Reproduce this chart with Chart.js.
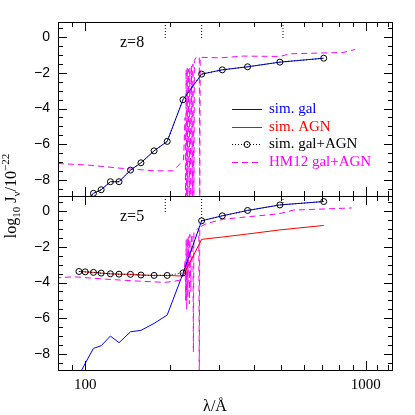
<!DOCTYPE html>
<html>
<head>
<meta charset="utf-8">
<script src="https://cdn.jsdelivr.net/npm/chart.js@4.4.0/dist/chart.umd.min.js"></script>
<style>
  body { margin: 0; background: #fff; }
  #wrap { position: relative; width: 415px; height: 415px; }
  canvas { position: absolute; left: 0; top: 0; }
</style>
</head>
<body>
<div id="wrap">
  <canvas id="z8" width="415" height="415"></canvas>
  <canvas id="z5" width="415" height="415"></canvas>
</div>
<script>
// wavelength bins of the simulated spectra (Angstrom)
const simLambda = [95, 100, 107, 114, 123, 132, 145, 158, 176, 196, 223, 260, 308, 379, 494, 708];

// z = 8 panel
const galZ8 = [-9.5, -9.2, -8.75, -8.55, -8.10, -8.10, -7.45, -7.04, -6.37, -5.84, -3.51, -2.07, -1.83, -1.66, -1.40, -1.18];
const totZ8 = [-9.5, -9.2, -8.75, -8.55, -8.10, -8.10, -7.45, -7.04, -6.37, -5.84, -3.51, -2.07, -1.83, -1.66, -1.40, -1.18];
const hmLambdaZ8 = [80, 103, 135, 178, 206, 224, 227, 228, 229, 230, 231, 232, 233, 235, 236, 238, 239, 241, 242, 244, 245, 248, 252, 255, 256, 257, 303, 366, 495, 537, 830, 916];
const hmZ8 = [-7.08, -7.17, -7.35, -7.49, -7.49, -6.89, -4.5, -9.5, -1.8, -9.5, -1.7, -9.5, -1.8, -9.5, -1.7, -9.5, -1.6, -9.5, -1.5, -9.5, -1.3, -1.15, -1.1, -1.1, -9.5, -1.13, -1.16, -1.06, -1.08, -0.93, -0.86, -0.69];

// z = 5 panel
const galZ5 = [-9.2, -8.53, -7.69, -7.54, -7.00, -7.37, -6.76, -6.68, -6.29, -5.82, -3.50, -0.54, -0.26, 0.04, 0.35, 0.54];
const agnZ5 = [-3.38, -3.40, -3.43, -3.47, -3.51, -3.53, -3.54, -3.58, -3.60, -3.60, -3.64, -1.58, -1.45, -1.28, -1.05, -0.80];
const totZ5 = [-3.38, -3.40, -3.43, -3.47, -3.51, -3.53, -3.54, -3.58, -3.60, -3.60, -3.46, -0.54, -0.26, 0.04, 0.35, 0.54];
const hmLambdaZ5 = [78, 92, 118, 155, 193, 209, 218, 224, 227, 228, 229, 230, 231, 232, 233, 235, 236, 238, 239, 242, 243, 244, 248, 254, 255, 256, 257, 271, 311, 377, 469, 495, 552, 891];
const hmZ5 = [-3.73, -3.68, -3.81, -3.92, -3.99, -3.92, -3.86, -3.6, -2.8, -5.0, -1.6, -5.5, -1.5, -4.8, -1.4, -5.2, -1.3, -4.5, -1.4, -1.3, -7.9, -1.2, -1.05, -0.95, -9.5, -0.9, -0.88, -0.69, -0.45, -0.32, -0.18, -0.13, 0.06, 0.18];

// short dotted markers hanging from the top of each panel
const markerLambda = [193, 260, 507];
const markerTop = 0.85;
const markerEndZ8 = [-0.15, -0.15, -0.15];
const markerEndZ5 = [-0.1, -0.55, 0.34];

// axes
const xMin = 80, xMax = 1250;
const yMin = -8.9, yMax = 0.85;
const yTicks = [0, -2, -4, -6, -8];
const xLabelTicks = [100, 1000];
const xMinorTicks = [80, 90, 200, 300, 400, 500, 600, 700, 800, 900, 1100, 1200];
const seriesNames = ['sim. gal', 'sim. AGN', 'sim. gal+AGN', 'HM12 gal+AGN'];

const BLUE = '#0000ff', RED = '#ff0000', MAGENTA = '#ff00ff', BLACK = '#000000';
const SERIF = '"Liberation Serif", "DejaVu Serif", serif';
const SANS = '"Liberation Sans", Arial, sans-serif';

const pts = (xs, ys) => xs.map((x, i) => ({ x, y: ys[i] }));

function lineSet(data, color, extra) {
  return Object.assign({
    data, borderColor: color, backgroundColor: color, borderWidth: 1,
    pointRadius: 0, showLine: true, fill: false, clip: 0, tension: 0
  }, extra);
}

function markerSets(ends) {
  return markerLambda.map((l, i) => lineSet(
    [{ x: l, y: markerTop }, { x: l, y: ends[i] }], BLACK,
    { borderDash: [1, 2], order: 0 }));
}

// inward ticks and frame, through the chart's own scales
const frameTicks = {
  id: 'frameTicks',
  afterDraw(chart) {
    const { ctx, chartArea: a, scales: { x, y } } = chart;
    ctx.save();
    ctx.strokeStyle = BLACK;
    ctx.lineWidth = 1;
    ctx.beginPath();
    for (let v = -9; v <= 1; v += 0.5) {
      if (v < yMin || v > yMax) continue;
      const py = Math.round(y.getPixelForValue(v)) + 0.5;
      const len = v % 2 === 0 ? 9 : 5;
      ctx.moveTo(a.left, py); ctx.lineTo(a.left + len, py);
      ctx.moveTo(a.right, py); ctx.lineTo(a.right - len, py);
    }
    const xs = xLabelTicks.map(v => [v, 9]).concat(xMinorTicks.map(v => [v, 5]));
    xs.forEach(([v, len]) => {
      const px = Math.round(x.getPixelForValue(v)) + 0.5;
      ctx.moveTo(px, a.top); ctx.lineTo(px, a.top + len);
      ctx.moveTo(px, a.bottom); ctx.lineTo(px, a.bottom - len);
    });
    ctx.stroke();
    ctx.strokeRect(Math.round(a.left) + 0.5, Math.round(a.top) + 0.5,
      Math.round(a.width) - 1, Math.round(a.height));
    ctx.restore();
  }
};

// panel label, legend and axis titles
const annotations = {
  id: 'annotations',
  afterDraw(chart, args, opts) {
    const ctx = chart.ctx;
    ctx.save();
    ctx.fillStyle = BLACK;
    ctx.font = '16px ' + SERIF;
    ctx.textBaseline = 'middle';
    ctx.fillText(opts.label, 120, chart.chartArea.top + 21);

    if (opts.legend) {
      const styles = [
        { c: BLUE, dash: [], dot: false },
        { c: RED, dash: [], dot: false },
        { c: BLACK, dash: [1, 2], dot: true },
        { c: MAGENTA, dash: [6, 4], dot: false }
      ];
      const rows = [109, 127, 144, 162];
      seriesNames.forEach((name, i) => {
        const s = styles[i], ry = rows[i] + 0.5;
        ctx.strokeStyle = s.c;
        ctx.lineWidth = 1;
        ctx.setLineDash(s.dash);
        ctx.beginPath(); ctx.moveTo(232, ry); ctx.lineTo(262, ry); ctx.stroke();
        ctx.setLineDash([]);
        if (s.dot) {
          ctx.beginPath(); ctx.arc(247, ry, 3, 0, Math.PI * 2); ctx.stroke();
        }
        ctx.fillStyle = s.c;
        ctx.font = '15px ' + SERIF;
        ctx.fillText(name, 269, ry);
      });
    }

    if (opts.axisTitles) {
      ctx.fillStyle = BLACK;
      ctx.textBaseline = 'alphabetic';
      ctx.font = '16px ' + SERIF;
      ctx.textAlign = 'center';
      ctx.fillText('\u03bb/\u00c5', 215, 411);
      ctx.textAlign = 'left';
      // rotated y title with sub/superscripts
      const parts = [
        ['log', 16, 0], ['10', 11, 4], [' J', 16, 0], ['\u03bd', 11, 4],
        ['/10', 16, 0], ['\u221222', 11, -7]
      ];
      let total = 0;
      parts.forEach(p => { ctx.font = p[1] + 'px ' + SERIF; total += ctx.measureText(p[0]).width; });
      ctx.translate(16, 196);
      ctx.rotate(-Math.PI / 2);
      let cx = -total / 2;
      parts.forEach(p => {
        ctx.font = p[1] + 'px ' + SERIF;
        ctx.fillText(p[0], cx, p[2]);
        cx += ctx.measureText(p[0]).width;
      });
    }
    ctx.restore();
  }
};

function makePanel(id, padTop, padBottom, datasets, showX, opts) {
  return new Chart(document.getElementById(id), {
    type: 'scatter',
    data: { datasets },
    options: {
      responsive: false,
      animation: false,
      devicePixelRatio: 1,
      layout: { padding: { top: padTop, right: 22, bottom: padBottom, left: 0 } },
      plugins: { legend: { display: false }, tooltip: { enabled: false }, annotations: opts },
      scales: {
        x: {
          type: 'logarithmic', min: xMin, max: xMax, display: showX,
          grid: { display: false, drawTicks: false }, border: { display: false },
          afterBuildTicks: s => { s.ticks = xLabelTicks.map(v => ({ value: v })); },
          afterFit: s => { if (showX) s.height = 45; },
          ticks: { color: BLACK, padding: 6, font: { family: SERIF, size: 15 },
                   maxRotation: 0, autoSkip: false, callback: v => String(v) }
        },
        y: {
          min: yMin, max: yMax,
          grid: { display: false, drawTicks: false }, border: { display: false },
          afterBuildTicks: s => { s.ticks = yTicks.map(v => ({ value: v })); },
          afterFit: s => { s.width = 58; },
          ticks: { color: BLACK, padding: 8, font: { family: SANS, size: 14 },
                   callback: v => v === 0 ? '0' : '\u2212' + Math.abs(v) }
        }
      }
    },
    plugins: [frameTicks, annotations]
  });
}

makePanel('z8', 22, 219, [
  ...markerSets(markerEndZ8),
  lineSet(pts(simLambda, totZ8), BLACK, {
    borderDash: [1, 2], pointRadius: 3, pointBorderColor: BLACK,
    pointBackgroundColor: 'rgba(0,0,0,0)', pointBorderWidth: 1, order: 0 }),
  lineSet(pts(simLambda, galZ8), BLUE, { order: 1 }),
  lineSet(pts(hmLambdaZ8, hmZ8), MAGENTA, { borderDash: [6, 4], order: 3 })
], false, { label: 'z=8', legend: true, axisTitles: false });

makePanel('z5', 196, 0, [
  ...markerSets(markerEndZ5),
  lineSet(pts(simLambda, totZ5), BLACK, {
    borderDash: [1, 2], pointRadius: 3, pointBorderColor: BLACK,
    pointBackgroundColor: 'rgba(0,0,0,0)', pointBorderWidth: 1, order: 0 }),
  lineSet(pts(simLambda, galZ5), BLUE, { order: 1 }),
  lineSet(pts(simLambda, agnZ5), RED, { order: 2 }),
  lineSet(pts(hmLambdaZ5, hmZ5), MAGENTA, { borderDash: [6, 4], order: 3 })
], true, { label: 'z=5', legend: false, axisTitles: true });
</script>
</body>
</html>
